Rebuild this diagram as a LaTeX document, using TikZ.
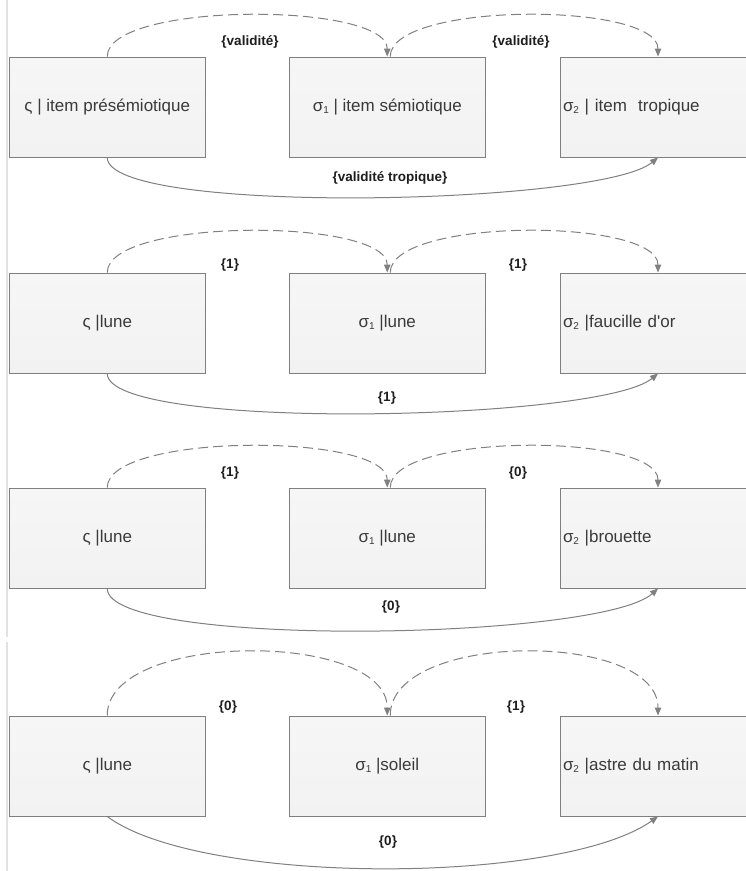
\documentclass[tikz,border=0pt]{standalone}
\usepackage{fontspec}
\setmainfont{Liberation Sans}
\usetikzlibrary{arrows.meta,calc}
\definecolor{boxline}{HTML}{7F7F7F}
\definecolor{boxfill}{HTML}{F2F2F2}
\definecolor{conn}{HTML}{808080}
\definecolor{txt}{HTML}{3A3A3A}
\definecolor{lbl}{HTML}{1E1E1E}
\definecolor{edge}{HTML}{E2E2E2}
\newcommand{\lowidx}[1]{\raisebox{-0.25ex}{\fontsize{10pt}{11pt}\selectfont #1}}
\tikzset{
  itembox/.style={draw=boxline, line width=1pt, top color=boxfill!70!white, bottom color=boxfill,
    rectangle, minimum width=195.5pt, minimum height=100pt, inner sep=0pt,
    text=txt, font=\fontsize{17pt}{20pt}\selectfont},
  itemboxleft/.style={itembox, minimum width=196pt, text width=190pt, inner xsep=3pt, align=left},
  lblnode/.style={text=lbl, font=\fontsize{13.5pt}{16pt}\selectfont\bfseries, inner sep=1pt},
  dashconn/.style={draw=conn, line width=1pt, dash pattern=on 10pt off 5pt,
    -{Triangle[length=8pt,width=6.5pt]}},
  solidconn/.style={draw=conn, line width=1pt, -{Triangle[length=8pt,width=6.5pt]}},
  leftedge/.style={draw=edge, line width=1.3pt}
}
\begin{document}
\begin{tikzpicture}[x=1pt,y=-1pt]
\clip (0,0) rectangle (746,871);
\fill[white] (0,0) rectangle (746,871);
\coordinate (e1) at (7,0);
\coordinate (e2) at (7,637);
\coordinate (e3) at (7,642);
\coordinate (e4) at (7,871);
\draw[leftedge] (e1) -- (e2);
\draw[leftedge] (e3) -- (e4);

% ---------- panel 1 ----------
\node[itembox] (a1) at (107.25,107) {ς | item présémiotique};
\node[itembox] (b1) at (387.25,107) {σ\lowidx{1} | item sémiotique};
\node[itemboxleft] (c1) at (658,107) {σ\lowidx{2} | item\ \ tropique};
\draw[dashconn] (a1.north) .. controls ($(a1.north)+(0,-55)$) and ($(b1.north)+(0,-55)$) .. (b1.north);
\draw[dashconn] ($(b1.north)+(3,0)$) .. controls ($(b1.north)+(3,-55)$) and ($(c1.north)+(0,-55)$) .. (c1.north);
\draw[solidconn] (a1.south) .. controls ($(a1.south)+(0,58)$) and ($(c1.south)+(-58,48)$) .. (c1.south);
\node[lblnode] (l11) at (250,42) {\{validité\}};
\node[lblnode] (l12) at (521,42) {\{validité\}};
\node[lblnode] (l13) at (390,178) {\{validité tropique\}};

% ---------- panel 2 ----------
\node[itembox] (a2) at (107.25,323) {ς |lune};
\node[itembox] (b2) at (387.25,323) {σ\lowidx{1} |lune};
\node[itemboxleft] (c2) at (658,323) {σ\lowidx{2} |faucille d\textquotesingle or};
\draw[dashconn] (a2.north) .. controls ($(a2.north)+(0,-55)$) and ($(b2.north)+(0,-55)$) .. (b2.north);
\draw[dashconn] ($(b2.north)+(3,0)$) .. controls ($(b2.north)+(3,-55)$) and ($(c2.north)+(0,-55)$) .. (c2.north);
\draw[solidconn] (a2.south) .. controls ($(a2.south)+(0,58)$) and ($(c2.south)+(-58,48)$) .. (c2.south);
\node[lblnode] (l21) at (230,265) {\{1\}};
\node[lblnode] (l22) at (518,265) {\{1\}};
\node[lblnode] (l23) at (387,398) {\{1\}};

% ---------- panel 3 ----------
\node[itembox] (a3) at (107.25,538) {ς |lune};
\node[itembox] (b3) at (387.25,538) {σ\lowidx{1} |lune};
\node[itemboxleft] (c3) at (658,538) {σ\lowidx{2} |brouette};
\draw[dashconn] (a3.north) .. controls ($(a3.north)+(0,-55)$) and ($(b3.north)+(0,-55)$) .. (b3.north);
\draw[dashconn] ($(b3.north)+(3,0)$) .. controls ($(b3.north)+(3,-55)$) and ($(c3.north)+(0,-55)$) .. (c3.north);
\draw[solidconn] (a3.south) .. controls ($(a3.south)+(0,60)$) and ($(c3.south)+(-58,52)$) .. (c3.south);
\node[lblnode] (l31) at (230,473) {\{1\}};
\node[lblnode] (l32) at (518,473) {\{0\}};
\node[lblnode] (l33) at (391,607) {\{0\}};

% ---------- panel 4 ----------
\node[itembox] (a4) at (107.25,766) {ς |lune};
\node[itembox] (b4) at (387.25,766) {σ\lowidx{1} |soleil};
\node[itemboxleft] (c4) at (658,766) {σ\lowidx{2} |astre du matin};
\draw[dashconn] (a4.north) .. controls ($(a4.north)+(0,-85)$) and ($(b4.north)+(0,-85)$) .. (b4.north);
\draw[dashconn] ($(b4.north)+(3,0)$) .. controls ($(b4.north)+(3,-85)$) and ($(c4.north)+(0,-85)$) .. (c4.north);
\draw[solidconn] (a4.south) .. controls ($(a4.south)+(93,69)$) and ($(c4.south)+(-98,69)$) .. (c4.south);
\node[lblnode] (l41) at (228,707) {\{0\}};
\node[lblnode] (l42) at (516,707) {\{1\}};
\node[lblnode] (l43) at (388,842) {\{0\}};
\end{tikzpicture}
\end{document}
